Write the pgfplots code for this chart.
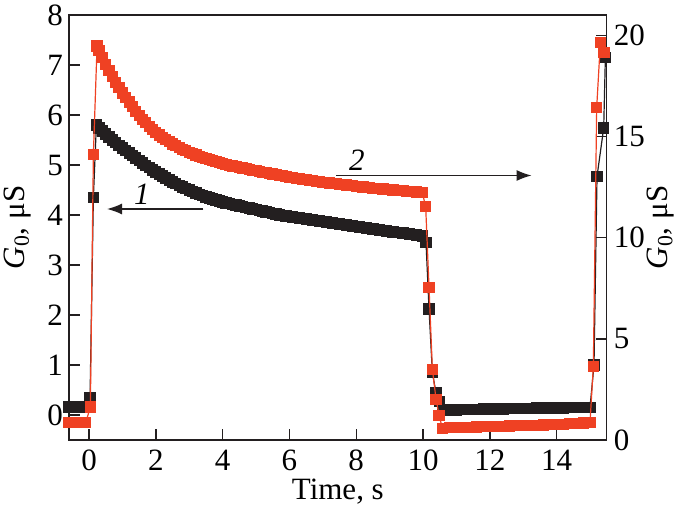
\documentclass[border=0pt]{standalone}
\usepackage{pgfplots}
\pgfplotsset{compat=1.18}
\usepackage{fontspec}
\setmainfont{Liberation Serif}
\usetikzlibrary{arrows.meta}
\definecolor{ink}{RGB}{35,31,32}
\definecolor{redc}{RGB}{239,65,35}
\begin{document}
\begin{tikzpicture}
\pgfplotsset{
  every axis/.append style={
    scale only axis, width=268.85pt, height=212.5pt,
    xmin=-0.6, xmax=15.5,
    tick label style={font=\fontsize{15.5}{18}\selectfont},
    label style={font=\fontsize{15.5}{18}\selectfont},
    /pgf/number format/assume math mode=true,
    tick align=inside, major tick length=5.5pt,
    tick style={ink, line width=0.7pt},
    axis line style={ink, line width=0.7pt},
  }
}
\begin{axis}[name=ax,
  ymin=-0.5, ymax=8, ytick={0,...,8}, xtick={0,2,...,14},
  xtick pos=bottom, ytick pos=left,
  xticklabel style={yshift=-1.5pt},
  yticklabel style={xshift=0.5pt},
  xlabel={Time, s},
  xlabel style={at={(axis description cs:0.5,-0.122)}, anchor=center, inner sep=0.5pt},
  ylabel={\textit{G}\textsubscript{0}, μS},
  ylabel style={at={(axis description cs:-0.096,0.5)}, anchor=center},
]
\addplot[ink, line width=0.6pt, mark=square*, mark size=2.5pt, mark options={solid, fill=ink, draw=none}] coordinates {
(-0.6,0.16) (-0.5,0.16) (-0.4,0.16) (-0.3,0.16) (-0.2,0.16) (-0.1,0.16)
(0.03,0.34) (0.13,4.35) (0.22,5.80) (0.3,5.74) (0.4,5.68) (0.5,5.62) (0.6,5.56) (0.7,5.50) (0.8,5.45) (0.9,5.39) (1.0,5.34)
(1.1,5.29) (1.2,5.24) (1.3,5.19) (1.4,5.14) (1.5,5.09) (1.6,5.04) (1.7,4.99) (1.8,4.95) (1.9,4.90) (2.0,4.86)
(2.1,4.82) (2.2,4.78) (2.3,4.74) (2.4,4.70) (2.5,4.66) (2.6,4.63) (2.7,4.59) (2.8,4.56) (2.9,4.53) (3.0,4.50)
(3.1,4.47) (3.2,4.44) (3.3,4.41) (3.4,4.39) (3.5,4.36) (3.6,4.34) (3.7,4.32) (3.8,4.30) (3.9,4.28) (4.0,4.26)
(4.1,4.24) (4.2,4.23) (4.3,4.21) (4.4,4.20) (4.5,4.18) (4.6,4.17) (4.7,4.15) (4.8,4.14) (4.9,4.12) (5.0,4.11)
(5.1,4.09) (5.2,4.08) (5.3,4.06) (5.4,4.05) (5.5,4.03) (5.6,4.02) (5.7,4.00) (5.8,3.99) (5.9,3.98) (6.0,3.97)
(6.1,3.96) (6.2,3.95) (6.3,3.94) (6.4,3.93) (6.5,3.92) (6.6,3.91) (6.7,3.90) (6.8,3.89) (6.9,3.88) (7.0,3.87)
(7.1,3.86) (7.2,3.85) (7.3,3.84) (7.4,3.83) (7.5,3.82) (7.6,3.81) (7.7,3.80) (7.8,3.79) (7.9,3.78) (8.0,3.77)
(8.1,3.76) (8.2,3.75) (8.3,3.74) (8.4,3.73) (8.5,3.72) (8.6,3.71) (8.7,3.70) (8.8,3.69) (8.9,3.68) (9.0,3.67)
(9.1,3.66) (9.2,3.65) (9.3,3.645) (9.4,3.64) (9.5,3.63) (9.6,3.62) (9.7,3.61) (9.8,3.60) (9.9,3.59) (9.98,3.58)
(10.09,3.45) (10.18,2.12) (10.28,0.85) (10.39,0.44) (10.5,0.27) (10.6,0.11)
(10.8,0.10) (11.0,0.10) (11.2,0.11) (11.4,0.11) (11.6,0.11) (11.8,0.12) (12.0,0.12) (12.2,0.12) (12.4,0.12) (12.6,0.13)
(12.8,0.13) (13.0,0.13) (13.2,0.13) (13.4,0.14) (13.6,0.14) (13.8,0.14) (14.0,0.14) (14.2,0.14) (14.4,0.15) (14.6,0.15)
(14.8,0.15) (15.0,0.15)
(15.12,1.00) (15.21,4.77) (15.41,5.74) (15.46,7.15)
};
\draw[ink, line width=0.6pt, -{Latex[length=7.5pt,width=5.5pt]}] (axis cs:3.42,4.12) -- (axis cs:0.54,4.12);
\draw[ink, line width=0.6pt, -{Latex[length=7.5pt,width=5.5pt]}] (axis cs:7.40,4.79) -- (axis cs:13.25,4.79);
\node[font=\fontsize{15.5}{18}\selectfont\itshape] at (axis cs:1.58,4.42) {1};
\node[font=\fontsize{15.5}{18}\selectfont\itshape] at (axis cs:8.02,5.1) {2};
\end{axis}
\begin{axis}[
  ymin=0, ymax=21, ytick={0,5,...,20},
  axis y line*=right, axis x line=none,
  ylabel={\textit{G}\textsubscript{0}, μS},
  ylabel style={at={(axis description cs:1.101,0.5)}, anchor=center},
]
\addplot[redc, line width=0.6pt, mark=square*, mark size=2.5pt, mark options={solid, fill=redc, draw=none}] coordinates {
(-0.6,0.86) (-0.5,0.86) (-0.4,0.86) (-0.3,0.86) (-0.2,0.86) (-0.1,0.86)
(0.04,1.63) (0.13,14.1) (0.24,19.47) (0.3,19.25) (0.4,18.9) (0.5,18.55) (0.6,18.25) (0.7,17.95) (0.8,17.67) (0.9,17.4) (1.0,17.15)
(1.1,16.92) (1.2,16.7) (1.3,16.47) (1.4,16.25) (1.5,16.05) (1.6,15.85) (1.7,15.67) (1.8,15.5) (1.9,15.35) (2.0,15.2)
(2.1,15.07) (2.2,14.95) (2.3,14.84) (2.4,14.73) (2.5,14.63) (2.6,14.54) (2.7,14.45) (2.8,14.37) (2.9,14.29) (3.0,14.22)
(3.1,14.15) (3.2,14.08) (3.3,14.02) (3.4,13.96) (3.5,13.90) (3.6,13.85) (3.7,13.80) (3.8,13.75) (3.9,13.70) (4.0,13.66)
(4.1,13.62) (4.2,13.58) (4.3,13.54) (4.4,13.51) (4.5,13.47) (4.6,13.44) (4.7,13.40) (4.8,13.37) (4.9,13.33) (5.0,13.30)
(5.1,13.26) (5.2,13.23) (5.3,13.20) (5.4,13.17) (5.5,13.14) (5.6,13.11) (5.7,13.08) (5.8,13.05) (5.9,13.02) (6.0,12.99)
(6.1,12.96) (6.2,12.94) (6.3,12.91) (6.4,12.89) (6.5,12.86) (6.6,12.84) (6.7,12.81) (6.8,12.79) (6.9,12.76) (7.0,12.74)
(7.1,12.72) (7.2,12.70) (7.3,12.68) (7.4,12.66) (7.5,12.64) (7.6,12.62) (7.7,12.60) (7.8,12.58) (7.9,12.56) (8.0,12.54)
(8.1,12.52) (8.2,12.50) (8.3,12.48) (8.4,12.46) (8.5,12.44) (8.6,12.43) (8.7,12.41) (8.8,12.40) (8.9,12.38) (9.0,12.37)
(9.1,12.35) (9.2,12.34) (9.3,12.32) (9.4,12.31) (9.5,12.29) (9.6,12.28) (9.7,12.26) (9.8,12.25) (9.9,12.23) (9.98,12.22)
(10.08,11.52) (10.18,7.55) (10.28,3.50) (10.39,2.02) (10.48,1.23) (10.58,0.58)
(10.8,0.60) (11.0,0.61) (11.2,0.62) (11.4,0.63) (11.6,0.64) (11.8,0.65) (12.0,0.66) (12.2,0.67) (12.4,0.68) (12.6,0.69)
(12.8,0.70) (13.0,0.71) (13.2,0.72) (13.4,0.73) (13.6,0.74) (13.8,0.76) (14.0,0.77) (14.2,0.78) (14.4,0.80) (14.6,0.82)
(14.8,0.84) (15.0,0.86)
(15.1,3.65) (15.2,16.42) (15.31,19.63) (15.42,19.16)
};
\end{axis}
\pgfresetboundingbox
\path ([shift={(-34.5pt,-35pt)}]ax.south west) rectangle ([shift={(39.15pt,7.5pt)}]ax.north east);
\end{tikzpicture}
\end{document}
